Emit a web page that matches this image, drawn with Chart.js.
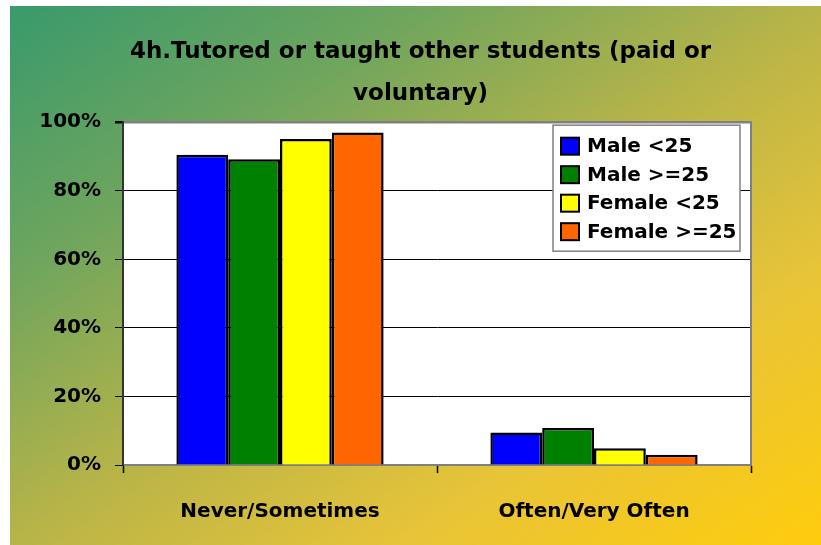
<!DOCTYPE html>
<html>
<head>
<meta charset="utf-8">
<script src="https://cdn.jsdelivr.net/npm/chart.js@4"></script>
<style>
	body { margin: 0; background: #ffffff; }
	#graphique { display: block; }
</style>
</head>
<body>
<canvas id="graphique" width="821" height="545"></canvas>
<script>
const categories = ["Never/Sometimes", "Often/Very Often"];
const seriesLabels = ["Male <25", "Male >=25", "Female <25", "Female >=25"];
const maleUnder25 = [90.5, 9.5];
const maleOver25 = [89.2, 10.8];
const femaleUnder25 = [95.1, 4.9];
const femaleOver25 = [97.0, 3.0];
const yTicks = [0, 20, 40, 60, 80, 100];

const couleurs = ["#0000ff", "#008000", "#ffff00", "#ff6600"];
const police = "'DejaVu Sans', sans-serif";

// fond dégradé + zone blanche du graphique
const fond = {
	id: "fond",
	beforeDraw(chart) {
		const ctx = chart.ctx;
		ctx.save();
		ctx.fillStyle = "#ffffff";
		ctx.fillRect(0, 0, chart.width, chart.height);
		const grad = ctx.createLinearGradient(10, 6, 507, 754);
		grad.addColorStop(0, "#389a6c");
		grad.addColorStop(0.25, "#6ea55e");
		grad.addColorStop(0.5, "#b8b448");
		grad.addColorStop(0.74, "#e8c438");
		grad.addColorStop(1, "#ffcc0c");
		ctx.fillStyle = grad;
		ctx.fillRect(10, 6, chart.width - 10, chart.height - 6);
		const a = chart.chartArea;
		ctx.fillStyle = "#ffffff";
		ctx.fillRect(a.left, a.top, a.right - a.left, a.bottom - a.top);
		ctx.restore();
	},
	afterDraw(chart) {
		const ctx = chart.ctx;
		const a = chart.chartArea;
		ctx.save();
		// bord droit gris
		ctx.strokeStyle = "#808080";
		ctx.lineWidth = 2;
		ctx.beginPath();
		ctx.moveTo(a.right, a.top - 1);
		ctx.lineTo(a.right, a.bottom);
		ctx.stroke();

		// légende dans la zone du graphique
		const x = a.right - 198, y = a.top + 3, w = 187, h = 126;
		ctx.fillStyle = "#ffffff";
		ctx.fillRect(x, y, w, h);
		ctx.strokeStyle = "#808080";
		ctx.lineWidth = 1.5;
		ctx.strokeRect(x, y, w, h);
		ctx.font = "bold 20px " + police;
		ctx.textBaseline = "middle";
		chart.data.datasets.forEach((ds, i) => {
			const cy = y + 21 + i * 28.5;
			ctx.fillStyle = ds.backgroundColor;
			ctx.fillRect(x + 8, cy - 8.5, 18, 17);
			ctx.strokeStyle = "#000000";
			ctx.lineWidth = 2;
			ctx.strokeRect(x + 8, cy - 8.5, 18, 17);
			ctx.fillStyle = "#000000";
			ctx.fillText(ds.label, x + 34, cy + 1);
		});
		ctx.restore();
	}
};

const seriesValues = [maleUnder25, maleOver25, femaleUnder25, femaleOver25];
const datasets = [];
for (let i = 0; i < seriesLabels.length; i++) {
	datasets.push({
		label: seriesLabels[i],
		data: seriesValues[i],
		backgroundColor: couleurs[i],
		borderColor: "#000000",
		borderWidth: 2.5,
		categoryPercentage: 0.66,
		barPercentage: 1,
	});
}

const config = {
	type: "bar",
	data: { labels: categories, datasets: datasets },
	options: {
		responsive: false,
		animation: false,
		layout: { padding: { left: 30, right: 10, top: 0, bottom: 0 } },
		plugins: {
			legend: { display: false },
			tooltip: { enabled: false },
			title: {
				display: true,
				text: ["4h.Tutored or taught other students (paid or", "voluntary)"],
				color: "#000000",
				font: { family: police, size: 23, weight: "bold", lineHeight: 1.83 },
				padding: { top: 31, bottom: 7 },
			},
		},
		scales: {
			x: {
				grid: { display: true, offset: true, drawOnChartArea: false, drawTicks: true, tickLength: 8, tickColor: "#000000", tickWidth: 1.5 },
				border: { display: true, color: "#808080", width: 2 },
				ticks: { color: "#000000", padding: 27, font: { family: police, size: 20, weight: "bold" } },
				afterFit: s => { s.height = 80; },
			},
			y: {
				min: 0,
				max: 100,
				afterBuildTicks: s => { s.ticks = yTicks.map(v => ({ value: v })); },
				grid: {
					color: c => (c.tick.value === 100 || c.tick.value === 0) ? "#808080" : "#000000",
					lineWidth: c => c.tick.value === 100 ? 2.5 : 1,
					tickColor: "#000000",
					tickLength: 8,
				},
				border: { display: true, color: "#333333", width: 2 },
				ticks: {
					color: "#000000",
					padding: 14,
					font: { family: police, size: 20, weight: "bold" },
					callback: v => v + "%",
				},
				afterFit: s => { s.width = 93; },
			},
			yPad: {
				position: "right",
				display: true,
				grid: { display: false },
				border: { display: false },
				ticks: { display: false },
				afterFit: s => { s.width = 60; },
			},
		},
	},
	plugins: [fond],
};

const graphique = new Chart(document.querySelector("#graphique"), config);
</script>
</body>
</html>
